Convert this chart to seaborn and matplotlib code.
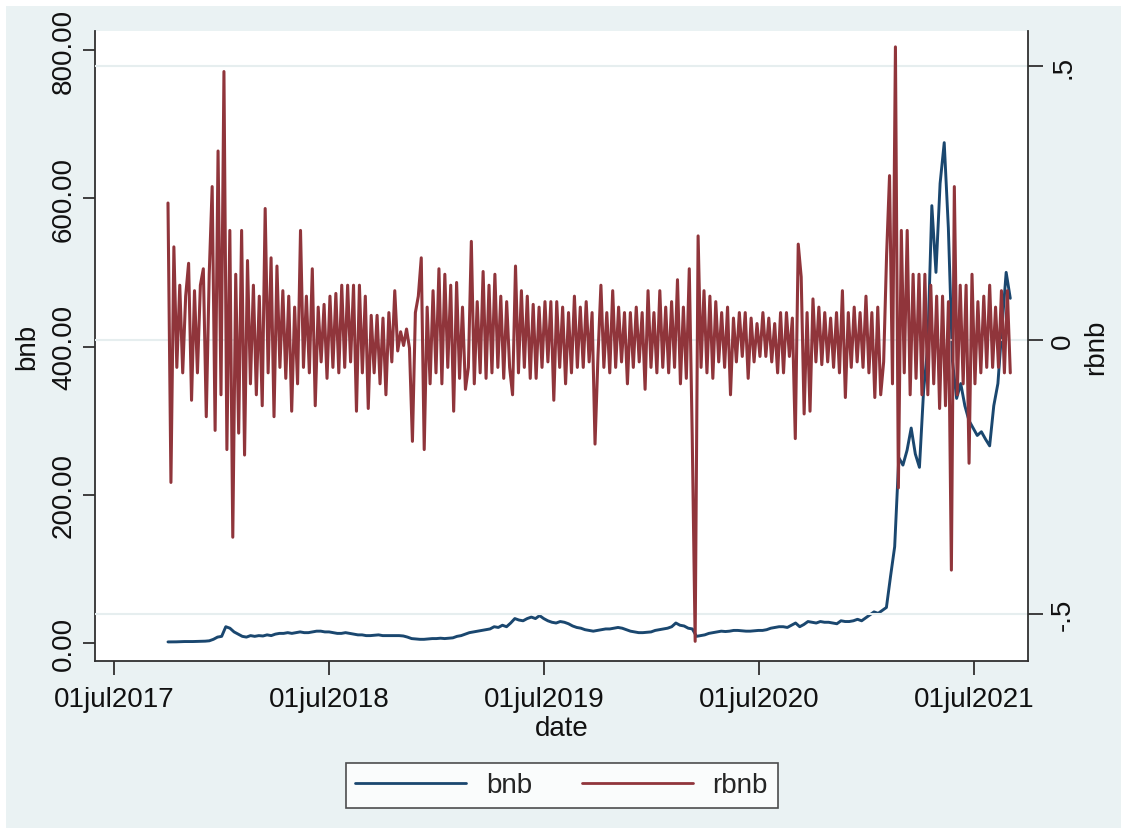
import pandas as pd
import matplotlib
matplotlib.use("Agg")
import matplotlib.pyplot as plt
from matplotlib.patches import Rectangle
import seaborn as sns

sns.set_theme(style="white")
plt.rcParams['font.family'] = ['Liberation Sans', 'DejaVu Sans']

# bnb price, roughly weekly
bnb = [
    1.5, 1.5, 1.6, 1.8, 2.0, 2.0, 2.0, 2.2, 2.5, 2.5, 3.0,
    5, 8, 9, 22, 20, 15, 12, 9, 8, 10, 9, 10, 9.5, 11, 10, 12, 13, 13, 14,
    13, 14, 15, 14, 14, 15, 16, 16, 15, 15, 14, 13, 13, 14, 13, 12, 11, 11, 10, 10,
    10.5, 11, 10, 10, 10, 10, 10, 9.5, 8, 6, 5.5, 5, 5, 5.5, 6, 6, 6.5, 6, 6.5, 7,
    9, 10, 12, 14, 15, 16, 17, 18, 19, 22, 21, 24, 22, 27, 33, 31, 30, 33, 35, 33,
    37, 33, 30, 28, 27, 29, 28, 26, 23, 21, 20, 18, 17, 16, 17, 18, 19, 19, 20, 21,
    20, 18, 16, 15, 14, 14, 14.5, 15, 17, 18, 19, 20, 22, 27, 24, 23, 20, 19, 9, 10,
    11, 13, 14, 15, 16, 15.5, 16, 17, 17, 16.5, 16, 16, 16.5, 17, 17, 18, 20, 21, 22, 22,
    21, 24, 27, 22, 25, 29, 28, 27, 29, 28, 28, 27, 26, 30, 29, 29, 30, 32, 30, 34,
    38, 42, 40, 44, 48, 90, 130, 250, 240, 260, 290, 255, 237, 340, 400, 590, 500, 620, 675, 560,
    380, 330, 350, 320, 300, 290, 280, 285, 275, 266, 320, 350, 427, 500, 465,
]

# rbnb daily return, sampled about every 5 days
rbnb = [
    0.25, -0.26, 0.17, -0.05, 0.10, -0.06, 0.08, 0.14, -0.11, 0.09, -0.06, 0.10,
    0.13, -0.14, 0.12, 0.28, -0.165, 0.345, -0.10, 0.49, -0.20, 0.20, -0.36, 0.12,
    -0.17, 0.20, -0.21, 0.145, -0.08, 0.10, -0.10, 0.08, -0.12, 0.24, -0.06, 0.15,
    -0.14, 0.135, -0.05, 0.09, -0.07, 0.08, -0.13, 0.06, -0.08, 0.20, -0.05, 0.08,
    -0.06, 0.13, -0.12, 0.06, -0.04, 0.065, -0.07, 0.08, -0.05, 0.085, -0.06, 0.10,
    -0.05, 0.10, -0.04, 0.10, -0.13, 0.10, -0.06, 0.08, -0.125, 0.045, -0.06, 0.045,
    -0.08, 0.04, -0.10, 0.05, -0.04, 0.09, -0.02, 0.015, -0.01, 0.02, -0.015, -0.185,
    0.05, 0.08, 0.15, -0.20, 0.06, -0.08, 0.09, -0.06, 0.13, -0.08, 0.12, -0.05,
    0.10, -0.13, 0.105, -0.07, 0.06, -0.09, -0.05, 0.18, -0.08, 0.07, -0.06, 0.125,
    -0.07, 0.10, -0.06, 0.12, -0.05, 0.08, -0.07, 0.07, -0.05, -0.10, 0.135, -0.06,
    0.09, -0.05, 0.08, -0.07, 0.065, -0.07, 0.06, -0.05, 0.07, -0.04, 0.07, -0.11,
    0.07, -0.05, 0.06, -0.08, 0.05, -0.06, 0.08, -0.05, 0.06, -0.05, 0.07, -0.04,
    0.05, -0.19, -0.03, 0.10, -0.05, 0.05, -0.06, 0.09, -0.05, 0.06, -0.04, 0.05,
    -0.08, 0.05, -0.05, 0.06, -0.04, 0.05, -0.09, 0.09, -0.05, 0.05, -0.06, 0.09,
    -0.05, 0.06, -0.06, 0.07, -0.05, 0.11, -0.08, 0.06, -0.07, 0.13, -0.175, -0.55,
    0.19, -0.05, 0.09, -0.06, 0.08, -0.07, 0.07, -0.04, 0.05, -0.05, 0.06, -0.10,
    0.04, -0.04, 0.05, -0.03, 0.05, -0.07, 0.04, -0.04, 0.03, -0.03, 0.05, -0.03,
    0.04, -0.04, 0.03, -0.06, 0.05, -0.06, 0.05, -0.03, 0.04, -0.18, 0.175, 0.115,
    -0.135, 0.05, -0.13, 0.075, -0.04, 0.06, -0.045, 0.05, -0.04, 0.04, -0.05, 0.05,
    -0.06, 0.09, -0.105, 0.05, -0.05, 0.06, -0.04, 0.05, -0.05, 0.08, -0.06, 0.05,
    -0.105, 0.06, -0.10, -0.04, 0.155, 0.30, -0.08, 0.535, -0.27, 0.20, -0.06, 0.20,
    -0.10, 0.12, -0.07, 0.12, -0.10, 0.12, -0.10, 0.10, -0.08, 0.08, -0.125, 0.08,
    -0.12, 0.07, -0.42, 0.28, -0.10, 0.10, -0.08, 0.10, -0.225, 0.12, -0.08, 0.07,
    -0.06, 0.08, -0.05, 0.10, -0.05, 0.06, -0.05, 0.09, -0.06, 0.09, -0.06,
]

start_date, end_date = "2017-10-01", "2021-08-31"
bnb_dates = pd.date_range(start_date, end_date, periods=len(bnb))
rbnb_dates = pd.date_range(start_date, end_date, periods=len(rbnb))

x_tick_dates = pd.to_datetime(["2017-07-01", "2018-07-01", "2019-07-01", "2020-07-01", "2021-07-01"])
x_tick_labels = ["01jul2017", "01jul2018", "01jul2019", "01jul2020", "01jul2021"]
left_ticks = [0, 200, 400, 600, 800]
left_tick_labels = ["0.00", "200.00", "400.00", "600.00", "800.00"]
right_ticks = [-0.5, 0, 0.5]
right_tick_labels = ["-.5", "0", ".5"]

BG = "#eaf2f3"
BLUE = "#1a476f"
RED = "#90353b"
AXC = "#303030"
FS = 20

fig = plt.figure(figsize=(11.21, 8.29), dpi=100)
fig.patch.set_facecolor("white")
fig.patches.append(Rectangle((6 / 1121, 0), 1, 1 - 7 / 829, transform=fig.transFigure,
                             facecolor=BG, edgecolor="none", zorder=-10))

ax = fig.add_axes([0.0847, 0.2014, 0.8323, 0.76])
ax.set_facecolor("white")
ax2 = ax.twinx()

sns.lineplot(x=bnb_dates, y=bnb, ax=ax, color=BLUE, lw=2.1, label="bnb")
sns.lineplot(x=rbnb_dates, y=rbnb, ax=ax2, color=RED, lw=2.2, label="rbnb")
for a in (ax, ax2):
    if a.get_legend() is not None:
        a.get_legend().remove()

ax.set_xlim(pd.Timestamp("2017-05-30"), pd.Timestamp("2021-09-30"))
ax.set_ylim(-24.3, 825.6)
ax2.set_ylim(-0.586, 0.564)

ax.set_xticks(x_tick_dates)
ax.set_xticklabels(x_tick_labels)
ax.set_yticks(left_ticks)
ax.set_yticklabels(left_tick_labels, rotation=90, va="center")
ax2.set_yticks(right_ticks)
ax2.set_yticklabels(right_tick_labels, rotation=90, va="center")

ax2.yaxis.grid(True, color="#e6eeef", lw=1.5)
ax2.set_axisbelow(True)
ax.grid(False)
ax.xaxis.grid(False)

ax.tick_params(axis="y", left=True, length=9, width=1.3, color=AXC, labelsize=FS, pad=4, labelcolor="#111")
ax.tick_params(axis="x", bottom=True, length=10, width=1.3, color=AXC, labelsize=FS, pad=8, labelcolor="#111")
ax2.tick_params(axis="y", right=True, length=11, width=1.3, color=AXC, labelsize=FS, pad=5, labelcolor="#111")

for a in (ax, ax2):
    a.spines["top"].set_visible(False)
    for s in ("left", "right", "bottom"):
        a.spines[s].set_color(AXC)
        a.spines[s].set_linewidth(1.3)
ax.spines["right"].set_visible(False)
ax2.spines["left"].set_visible(False)
ax2.spines["bottom"].set_visible(False)

ax.set_xlabel("date", fontsize=FS, color="#111", labelpad=2)
ax.set_ylabel("bnb", fontsize=FS, color="#111", labelpad=8)
ax2.set_ylabel("rbnb", fontsize=FS, color="#111", labelpad=5)

h1, l1 = ax.get_legend_handles_labels()
h2, l2 = ax2.get_legend_handles_labels()
leg = fig.legend(h1 + h2, l1 + l2, loc="center", bbox_to_anchor=(0.501, 0.0513), ncol=2,
                 fontsize=FS, frameon=True, fancybox=False, handlelength=4.0,
                 columnspacing=1.8, borderpad=0.35, handletextpad=0.7)
leg.get_frame().set_edgecolor("#222")
leg.get_frame().set_linewidth(1.2)
leg.get_frame().set_facecolor("white")
for line in leg.get_lines():
    line.set_linewidth(2.0)

fig.savefig("out.png", dpi=100, facecolor=fig.get_facecolor())
